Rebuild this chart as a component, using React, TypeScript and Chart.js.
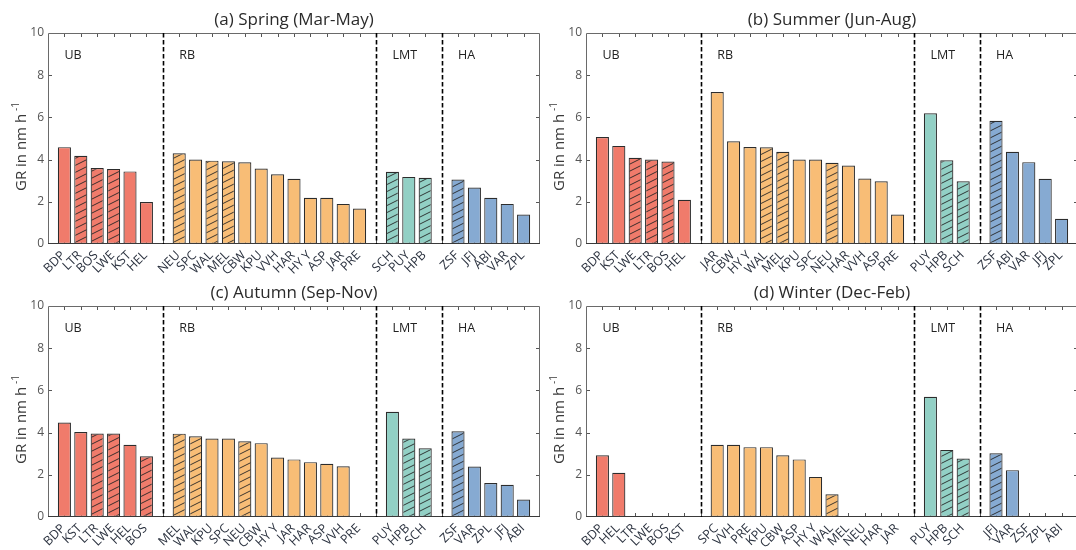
import React, { useEffect, useRef } from 'react';
import { Chart, registerables } from 'chart.js';

Chart.register(...registerables);

// ---------------- data ----------------
const GROUP_NAMES = ['UB', 'RB', 'LMT', 'HA'];
const GROUP_SIZES = [6, 12, 3, 5];
const GROUP_COLORS = ['#F07B6B', '#F8BD76', '#92D0C5', '#86AAD2'];
const Y_TICKS = [0, 2, 4, 6, 8, 10];

const springStations = ['BDP', 'LTR', 'BOS', 'LWE', 'KST', 'HEL', 'NEU', 'SPC', 'WAL', 'MEL', 'CBW', 'KPU', 'VVH', 'HAR', 'HY Y', 'ASP', 'JAR', 'PRE', 'SCH', 'PUY', 'HPB', 'ZSF', 'JFJ', 'ABI', 'VAR', 'ZPL'];
const springValues = [4.59, 4.18, 3.6, 3.56, 3.44, 1.99, 4.3, 4.0, 3.95, 3.92, 3.87, 3.58, 3.3, 3.09, 2.19, 2.19, 1.9, 1.68, 3.42, 3.18, 3.14, 3.06, 2.68, 2.19, 1.9, 1.4];
const springHatched = ['LTR', 'BOS', 'LWE', 'NEU', 'WAL', 'MEL', 'SCH', 'HPB', 'ZSF'];

const summerStations = ['BDP', 'KST', 'LWE', 'LTR', 'BOS', 'HEL', 'JAR', 'CBW', 'HY Y', 'WAL', 'MEL', 'KPU', 'SPC', 'NEU', 'HAR', 'VVH', 'ASP', 'PRE', 'PUY', 'HPB', 'SCH', 'ZSF', 'ABI', 'VAR', 'JFJ', 'ZPL'];
const summerValues = [5.07, 4.65, 4.09, 4.0, 3.91, 2.1, 7.2, 4.87, 4.6, 4.58, 4.37, 4.0, 4.0, 3.85, 3.72, 3.1, 2.97, 1.4, 6.2, 3.97, 2.97, 5.84, 4.37, 3.88, 3.09, 1.2];
const summerHatched = ['LWE', 'LTR', 'BOS', 'WAL', 'MEL', 'NEU', 'HPB', 'SCH', 'ZSF'];

const autumnStations = ['BDP', 'KST', 'LTR', 'LWE', 'HEL', 'BOS', 'MEL', 'WAL', 'KPU', 'SPC', 'NEU', 'CBW', 'HY Y', 'JAR', 'HAR', 'ASP', 'VVH', 'PRE', 'PUY', 'HPB', 'SCH', 'ZSF', 'VAR', 'ZPL', 'JFJ', 'ABI'];
const autumnValues = [4.48, 4.03, 3.96, 3.96, 3.42, 2.88, 3.95, 3.83, 3.72, 3.72, 3.59, 3.5, 2.82, 2.73, 2.6, 2.52, 2.4, null, 4.99, 3.72, 3.26, 4.06, 2.39, 1.61, 1.53, 0.83];
const autumnHatched = ['LTR', 'LWE', 'BOS', 'MEL', 'WAL', 'NEU', 'HPB', 'SCH', 'ZSF'];

const winterStations = ['BDP', 'HEL', 'LTR', 'LWE', 'BOS', 'KST', 'SPC', 'VVH', 'PRE', 'KPU', 'CBW', 'ASP', 'HY Y', 'WAL', 'MEL', 'NEU', 'HAR', 'JAR', 'PUY', 'HPB', 'SCH', 'JFJ', 'VAR', 'ZSF', 'ZPL', 'ABI'];
const winterValues = [2.93, 2.1, null, null, null, null, 3.42, 3.42, 3.31, 3.31, 2.93, 2.73, 1.9, 1.08, null, null, null, null, 5.7, 3.18, 2.77, 3.02, 2.22, null, null, null];
const winterHatched = ['WAL', 'HPB', 'SCH', 'JFJ'];

// ---------------- layout helpers ----------------
const FONT = "'Open Sans', 'DejaVu Sans', sans-serif";
const CANVAS_W = 560;
const CANVAS_H = 275;

// slot positions: groups separated by one empty slot holding a dashed line
const groupStarts: number[] = [];
const gapPositions: number[] = [];
const barPositions: number[] = [];
const barGroup: number[] = [];
{
  let p = 1;
  GROUP_SIZES.forEach((n, g) => {
    if (g > 0) {
      gapPositions.push(p);
      p += 1;
    }
    groupStarts.push(p);
    for (let i = 0; i < n; i++) {
      barPositions.push(p);
      barGroup.push(g);
      p += 1;
    }
  });
}
const X_MAX = barPositions[barPositions.length - 1] + 1;
const X_TICK_POS: number[] = [];
for (let v = 1; v < X_MAX; v++) X_TICK_POS.push(v);

function makeHatch(color: string): CanvasPattern | string {
  const c = document.createElement('canvas');
  c.width = 14;
  c.height = 7;
  const g = c.getContext('2d');
  if (!g) return color;
  g.fillStyle = color;
  g.fillRect(0, 0, 14, 7);
  g.strokeStyle = '#262626';
  g.lineWidth = 0.9;
  for (const dy of [-7, 0, 7]) {
    g.beginPath();
    g.moveTo(-2, 8 + dy);
    g.lineTo(16, -1 + dy);
    g.stroke();
  }
  return g.createPattern(c, 'repeat') ?? color;
}

type PanelProps = {
  title: string;
  stations: string[];
  values: (number | null)[];
  hatched: string[];
  left: number;
  top: number;
};

function Panel({ title, stations, values, hatched, left, top }: PanelProps) {
  const ref = useRef<HTMLCanvasElement>(null);

  useEffect(() => {
    const canvas = ref.current;
    if (!canvas) return;
    const patterns = GROUP_COLORS.map((c) => makeHatch(c));
    const data = values.map((v, i) => ({ x: barPositions[i], y: v }));
    const bg = stations.map((s, i) => (hatched.includes(s) ? patterns[barGroup[i]] : GROUP_COLORS[barGroup[i]]));
    const labelAt = (v: number) => {
      const idx = barPositions.indexOf(Math.round(v));
      return idx >= 0 ? stations[idx] : '';
    };

    const framePlugin = {
      id: 'frame',
      beforeDatasetsDraw(chart: any) {
        const { ctx, chartArea: a, scales } = chart;
        const xs = scales.x;
        const ys = scales.y;
        ctx.save();
        ctx.strokeStyle = '#555';
        ctx.lineWidth = 1;
        ctx.beginPath();
        for (const v of X_TICK_POS) {
          const px = Math.round(xs.getPixelForValue(v)) + 0.5;
          ctx.moveTo(px, a.top);
          ctx.lineTo(px, a.top + 4);
          ctx.moveTo(px, a.bottom);
          ctx.lineTo(px, a.bottom - 4);
        }
        for (const v of Y_TICKS.slice(1, -1)) {
          const py = Math.round(ys.getPixelForValue(v)) + 0.5;
          ctx.moveTo(a.left, py);
          ctx.lineTo(a.left + 4, py);
          ctx.moveTo(a.right, py);
          ctx.lineTo(a.right - 4, py);
        }
        ctx.stroke();
        ctx.restore();
      },
      afterDatasetsDraw(chart: any) {
        const { ctx, chartArea: a, scales } = chart;
        const xs = scales.x;
        ctx.save();
        // box
        ctx.strokeStyle = '#6a6a6a';
        ctx.lineWidth = 1;
        ctx.beginPath();
        ctx.moveTo(a.left + 0.5, a.bottom);
        ctx.lineTo(a.left + 0.5, a.top + 0.5);
        ctx.lineTo(a.right - 0.5, a.top + 0.5);
        ctx.lineTo(a.right - 0.5, a.bottom);
        ctx.stroke();
        ctx.strokeStyle = '#3a3a3a';
        ctx.beginPath();
        ctx.moveTo(a.left, a.bottom - 0.5);
        ctx.lineTo(a.right, a.bottom - 0.5);
        ctx.stroke();
        // dashed group separators
        ctx.strokeStyle = '#000';
        ctx.lineWidth = 1.6;
        ctx.setLineDash([4.5, 2.5]);
        for (const g of gapPositions) {
          const px = Math.round(xs.getPixelForValue(g)) + 0.5;
          ctx.beginPath();
          ctx.moveTo(px, a.top);
          ctx.lineTo(px, a.bottom);
          ctx.stroke();
        }
        ctx.setLineDash([]);
        // group labels
        ctx.fillStyle = '#222';
        ctx.font = `12.5px ${FONT}`;
        ctx.textAlign = 'left';
        ctx.textBaseline = 'middle';
        GROUP_NAMES.forEach((n, g) => {
          ctx.fillText(n, xs.getPixelForValue(groupStarts[g]), a.top + 22);
        });
        // title
        ctx.fillStyle = '#2b2b2b';
        ctx.font = `17px ${FONT}`;
        ctx.textAlign = 'center';
        ctx.fillText(title, (a.left + a.right) / 2, a.top - 12.5);
        // y-axis title with superscript
        ctx.fillStyle = '#3a3a3a';
        const main = 'GR in nm h';
        const sup = '-1';
        ctx.font = `15px ${FONT}`;
        const w1 = ctx.measureText(main).width;
        ctx.font = `10px ${FONT}`;
        const w2 = ctx.measureText(sup).width;
        const total = w1 + 3 + w2;
        ctx.translate(a.left - 26, (a.top + a.bottom) / 2 + 8);
        ctx.rotate(-Math.PI / 2);
        ctx.textAlign = 'left';
        ctx.font = `15px ${FONT}`;
        ctx.fillText(main, -total / 2, 0);
        ctx.font = `10px ${FONT}`;
        ctx.fillText(sup, -total / 2 + w1 + 3, -6);
        ctx.restore();
      },
    };

    const chart = new Chart(canvas, {
      type: 'bar',
      data: {
        datasets: [
          {
            data: data as any,
            backgroundColor: bg as any,
            borderColor: '#2c2c2c',
            borderWidth: 1.2,
            borderSkipped: false,
            grouped: false,
            categoryPercentage: 1,
            barPercentage: 0.8,
          },
        ],
      },
      options: {
        responsive: false,
        animation: false,
        events: [],
        layout: { padding: { left: 0, top: 33, right: CANVAS_W - 540, bottom: 0 } },
        plugins: { legend: { display: false }, tooltip: { enabled: false }, title: { display: false } },
        scales: {
          x: {
            type: 'linear',
            offset: false,
            min: 0,
            max: X_MAX,
            afterBuildTicks: (s: any) => {
              s.ticks = X_TICK_POS.map((v) => ({ value: v }));
            },
            afterFit: (s: any) => {
              s.height = CANVAS_H - 244;
              s.paddingLeft = 0;
              s.paddingRight = 0;
            },
            ticks: {
              autoSkip: false,
              minRotation: 45,
              maxRotation: 45,
              padding: 4,
              labelOffset: -1,
              color: '#2c3340',
              font: { family: FONT, size: 12.5 },
              callback: (v: any) => labelAt(Number(v)),
            },
            grid: { display: false, drawTicks: false, offset: false },
            border: { display: false },
          },
          y: {
            min: 0,
            max: 10,
            afterBuildTicks: (s: any) => {
              s.ticks = Y_TICKS.map((v) => ({ value: v }));
            },
            afterFit: (s: any) => {
              s.width = 48;
            },
            ticks: {
              padding: 4,
              color: '#555',
              font: { family: FONT, size: 12 },
            },
            grid: { display: false, drawTicks: false },
            border: { display: false },
          },
        },
      },
      plugins: [framePlugin],
    });
    return () => chart.destroy();
  }, [title, stations, values, hatched]);

  return (
    <canvas
      ref={ref}
      width={CANVAS_W}
      height={CANVAS_H}
      style={{ position: 'absolute', left, top, width: CANVAS_W, height: CANVAS_H }}
    />
  );
}

export default function App() {
  return (
    <div
      style={{
        position: 'absolute',
        left: 0,
        top: 0,
        width: 1076,
        height: 550,
        overflow: 'hidden',
        background: '#fff',
      }}
    >
      <Panel title="(a) Spring (Mar-May)" stations={springStations} values={springValues} hatched={springHatched} left={0} top={0} />
      <Panel title="(b) Summer (Jun-Aug)" stations={summerStations} values={summerValues} hatched={summerHatched} left={538} top={0} />
      <Panel title="(c) Autumn (Sep-Nov)" stations={autumnStations} values={autumnValues} hatched={autumnHatched} left={0} top={273} />
      <Panel title="(d) Winter (Dec-Feb)" stations={winterStations} values={winterValues} hatched={winterHatched} left={538} top={273} />
    </div>
  );
}
